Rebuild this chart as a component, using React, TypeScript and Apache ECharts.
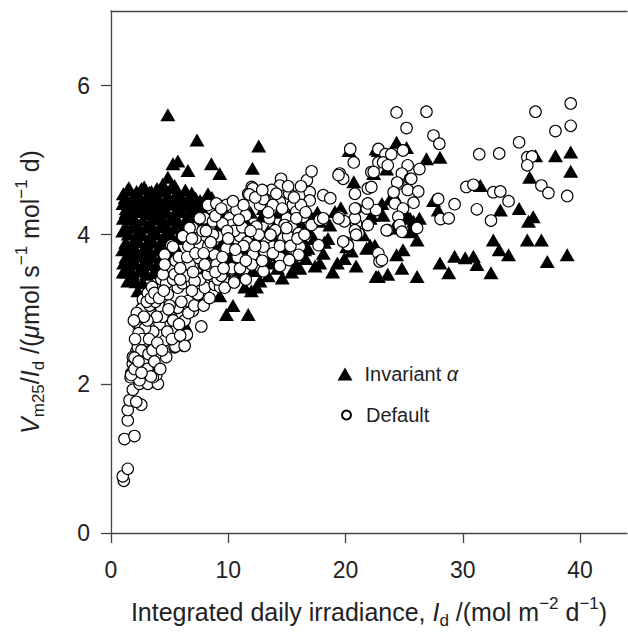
import React, { useEffect, useRef } from "react";
import * as echarts from "echarts";

const FONT = '"Liberation Sans", Arial, Helvetica, sans-serif';
const TEXT = "#222";
const AXIS = "#444";

const xTicks = [0, 10, 20, 30, 40];
const yTicks = [0, 2, 4, 6];

// Invariant alpha (filled triangles)
const invariantCluster: number[][] = [
  [4.85, 5.61], [7.33, 5.27], [5.7, 4.99], [5.28, 4.95], [6.56, 4.86], [8.56, 4.95], [9.27, 4.82],
  [4.85, 4.77], [4.42, 4.68], [5.42, 4.66], [8.27, 4.55],
  [1.05, 4.55], [1.4, 4.6], [2.0, 4.5], [2.6, 4.62], [3.1, 4.52], [3.45, 4.58], [4.0, 4.5], [4.4, 4.6],
  [5.0, 4.48], [5.6, 4.56], [6.2, 4.45], [7.0, 4.52], [7.6, 4.46], [8.6, 4.5],
  [1.02, 4.42], [1.3, 4.35], [1.8, 4.4], [2.3, 4.32], [2.9, 4.38], [3.5, 4.3], [4.1, 4.36], [4.7, 4.3],
  [1.05, 4.22], [1.0, 4.05], [1.08, 3.62], [1.04, 3.5], [1.0, 3.8],
  [1.43, 3.38], [2.29, 3.25], [2.86, 3.16],
  [7.7, 3.09], [6.28, 2.8], [9.27, 3.18], [10.4, 3.05], [9.84, 2.93], [11.7, 2.93], [11.97, 3.25],
  [12.7, 3.38], [10.7, 3.69],
];

const invariantDense: number[][] = [
  [1.52, 4.63], [2.18, 4.58], [2.83, 4.64], [3.27, 4.57], [3.92, 4.62], [4.53, 4.59], [5.12, 4.63],
  [5.68, 4.57], [6.34, 4.6], [6.88, 4.56],
  [1.21, 4.5], [1.83, 4.48], [2.41, 4.52], [3.04, 4.47], [3.62, 4.51], [4.18, 4.46], [4.82, 4.52],
  [5.39, 4.47], [6.03, 4.5], [6.61, 4.44], [7.22, 4.49], [7.83, 4.43],
  [1.49, 4.41], [2.12, 4.37], [2.71, 4.42], [3.31, 4.38], [3.88, 4.4], [4.47, 4.36], [5.13, 4.41],
  [5.72, 4.37], [6.28, 4.39], [6.93, 4.35], [7.52, 4.38],
  [1.28, 4.3], [1.79, 4.27], [2.38, 4.31], [3.02, 4.28], [3.58, 4.32], [4.21, 4.26], [4.79, 4.3],
  [5.42, 4.27], [6.01, 4.31], [6.63, 4.26], [7.19, 4.29], [7.91, 4.24],
  [1.53, 4.21], [2.08, 4.17], [2.73, 4.2], [3.34, 4.16], [3.87, 4.21], [4.52, 4.17], [5.08, 4.2],
  [5.71, 4.16], [6.32, 4.19], [6.88, 4.14], [7.61, 4.17],
  [1.28, 4.09], [1.81, 4.11], [2.43, 4.07], [2.98, 4.1], [3.63, 4.06], [4.19, 4.11], [4.83, 4.07],
  [5.38, 4.09], [6.04, 4.05], [6.58, 4.08], [7.31, 4.04],
  [1.48, 4.01], [2.11, 3.97], [2.69, 4.0], [3.32, 3.96], [3.91, 4.01], [4.48, 3.97], [5.12, 3.99],
  [5.73, 3.95], [6.38, 3.98],
  [1.26, 3.9], [1.82, 3.88], [2.37, 3.91], [3.03, 3.87], [3.61, 3.9], [4.22, 3.86], [4.79, 3.89], [5.47, 3.85],
  [1.52, 3.81], [2.13, 3.77], [2.72, 3.8], [3.28, 3.76], [3.93, 3.79], [4.51, 3.75], [5.08, 3.78],
  [1.27, 3.7], [1.78, 3.68], [2.42, 3.71], [2.97, 3.67], [3.59, 3.7], [4.18, 3.66], [4.82, 3.69],
  [1.51, 3.58], [2.09, 3.61], [2.68, 3.57], [3.33, 3.6], [3.88, 3.56],
  [1.29, 3.5], [1.83, 3.48], [2.39, 3.51], [3.01, 3.47], [3.62, 3.49],
  [1.72, 3.39], [2.13, 3.37], [2.71, 3.36],
];

const invariantMid: number[][] = [
  [12.6, 5.19], [12.06, 4.89], [20.7, 4.71], [20.3, 5.13], [22.6, 5.15], [22.4, 4.82], [19.6, 4.36],
  [18.66, 4.13], [18.5, 3.95], [17.8, 3.62], [16.1, 3.55], [19.9, 3.68], [20.9, 3.58], [21.8, 3.82],
  [22.1, 4.22], [22.6, 3.44], [15.2, 4.26], [14.7, 3.82], [13.8, 3.73], [16.8, 3.82], [17.2, 4.22],
  [15.8, 3.6], [13.0, 3.55], [11.3, 3.82], [10.8, 3.64], [15.2, 3.95], [20.5, 3.78], [21.5, 4.0],
  [19.1, 4.31], [17.8, 4.18], [20.1, 3.84], [14.96, 4.26], [15.5, 4.09], [16.3, 3.95], [13.4, 4.05],
  [12.2, 3.9], [11.0, 4.1], [9.5, 3.9], [10.2, 3.7], [12.5, 3.72], [14.2, 3.55], [16.6, 3.68], [18.9, 3.5],
  [8.0, 3.75], [8.7, 3.6], [9.0, 4.05], [10.0, 4.25], [11.6, 4.15], [12.9, 4.25], [13.9, 4.1], [7.6, 4.0],
  [8.3, 4.2], [9.8, 3.45], [10.9, 3.5], [12.1, 3.52], [13.4, 3.45], [14.3, 3.68], [17.3, 3.95],
  [18.1, 3.75], [19.3, 3.62], [16.6, 4.35],
  [8.2, 3.95], [8.9, 3.82], [9.6, 4.12], [10.4, 3.88], [11.1, 4.0], [11.9, 3.7], [12.7, 3.95],
  [13.5, 3.62], [14.1, 3.9], [14.9, 3.72], [15.7, 4.05], [16.5, 3.8], [17.4, 3.58], [9.1, 3.55],
  [10.1, 3.4], [11.4, 3.3], [12.4, 3.3], [14.6, 3.42], [15.4, 3.5], [16.9, 4.05], [18.2, 3.9],
  [17.6, 4.3], [16.2, 4.15], [7.9, 4.35], [8.6, 4.25], [9.3, 4.3], [10.6, 4.32], [11.9, 4.3],
  [13.0, 4.35], [14.3, 4.3], [7.4, 3.8], [8.0, 3.5],
];

const invariantHigh: number[][] = [
  [24.35, 5.24], [25.2, 5.17], [26.9, 5.02], [28.05, 5.04], [22.8, 5.13], [36.2, 5.06], [37.9, 5.06],
  [39.2, 5.11], [39.2, 4.85], [35.7, 4.77], [31.5, 4.66], [27.5, 4.46], [27.9, 4.33], [33.2, 4.33],
  [34.8, 4.35], [36.0, 4.24], [35.6, 4.18], [32.6, 3.93], [33.1, 3.8], [33.9, 3.73], [35.5, 3.93],
  [36.7, 3.93], [37.2, 3.64], [38.9, 3.73], [29.3, 3.71], [30.2, 3.69], [30.9, 3.71], [31.2, 3.6],
  [28.05, 3.62], [28.8, 3.49], [32.4, 3.49], [26.1, 3.44], [24.8, 3.55], [23.6, 3.47], [22.8, 3.44],
  [24.35, 3.73], [24.9, 3.8], [26.1, 3.93], [25.5, 4.04], [26.3, 4.22], [25.2, 4.26], [23.2, 4.26],
  [23.8, 4.48], [23.1, 4.42], [22.2, 4.26], [23.5, 4.88], [22.5, 3.86], [25.8, 4.18], [24.2, 4.51],
  [25.5, 4.22], [24.1, 4.09], [25.6, 4.06], [22.1, 3.86],
];

// Default (open circles)
const defaultLow: number[][] = [
  [1.09, 0.7], [1.0, 0.76], [1.43, 0.86], [1.15, 1.26], [2.0, 1.3], [1.43, 1.51], [1.43, 1.65],
  [1.58, 1.78], [2.58, 1.72], [2.15, 1.76], [1.86, 1.92], [1.67, 2.09], [1.72, 2.14], [1.86, 2.27],
  [2.43, 2.0], [3.14, 2.0], [4.0, 2.0], [3.86, 2.12], [4.71, 2.36], [5.42, 2.49], [6.2, 2.51],
  [6.42, 2.65], [7.7, 2.77], [2.15, 2.43], [2.86, 2.36], [3.43, 2.27], [2.29, 2.54], [2.29, 2.62],
  [2.29, 2.8], [2.72, 3.0], [2.72, 3.13], [3.14, 3.22], [3.43, 2.93], [4.0, 2.67], [4.57, 2.58],
  [4.14, 2.8], [5.14, 2.89], [5.7, 3.02], [6.56, 3.11], [7.41, 3.2], [6.98, 2.98], [6.28, 2.85],
  [5.42, 2.71], [4.28, 3.02], [4.85, 3.2], [5.7, 3.29], [4.0, 3.29], [8.0, 3.29], [8.84, 3.33],
  [9.97, 3.36], [10.5, 3.38], [3.71, 2.49], [3.0, 2.58], [2.58, 3.0], [2.43, 2.8], [6.47, 2.66],
  [5.5, 2.5], [6.28, 2.51], [2.43, 2.05], [1.72, 2.12], [2.72, 2.29], [1.86, 2.36], [2.29, 2.49],
  [3.57, 2.09], [2.0, 2.2], [2.6, 2.45], [3.2, 2.4], [3.6, 2.7], [2.9, 2.75], [3.3, 3.05], [3.8, 3.1],
  [4.4, 2.9], [5.0, 3.05], [3.9, 2.9], [3.5, 3.3], [4.3, 3.4], [2.5, 2.9], [2.0, 2.35], [3.1, 2.85],
  [4.7, 3.35], [5.3, 3.4], [6.1, 3.35], [6.9, 3.35], [7.6, 3.4], [9.3, 3.3],
  [2.2, 2.95], [2.35, 2.68], [2.65, 2.6], [2.8, 2.9], [3.05, 3.1], [3.4, 3.15], [3.7, 3.22],
  [4.1, 3.15], [4.5, 3.25], [4.9, 3.0], [5.3, 2.85], [5.8, 2.8], [6.0, 3.1], [6.6, 2.95], [7.1, 3.05],
  [7.9, 3.05], [8.4, 3.15], [3.25, 2.6], [3.55, 2.45], [3.95, 2.55], [4.35, 2.45], [4.8, 2.7],
  [5.2, 2.6], [5.9, 2.65], [3.1, 2.2], [3.4, 2.1], [2.6, 2.15], [2.35, 2.3], [2.05, 2.6], [1.95, 2.85],
  [4.6, 3.5], [5.1, 3.55], [5.5, 3.65], [6.4, 3.45], [7.3, 3.55], [7.9, 3.6], [8.6, 3.45], [9.1, 3.4],
  [3.7, 2.3], [4.2, 2.2],
];

const defaultMid: number[][] = [
  [5.14, 3.86], [4.57, 3.73], [6.28, 3.98], [6.98, 4.09], [7.98, 4.22], [8.56, 4.35], [9.12, 4.4],
  [10.1, 4.22], [6.85, 3.82], [7.98, 3.93], [9.12, 3.98], [10.7, 3.95], [6.28, 3.6], [7.41, 3.69],
  [8.84, 3.73], [4.42, 3.47], [5.42, 3.47], [9.69, 3.29], [10.3, 3.55], [8.27, 3.47], [7.13, 3.38],
  [14.5, 4.75], [14.4, 4.66], [12.0, 4.64], [11.7, 4.55], [13.7, 4.6], [15.2, 4.55], [8.27, 4.4],
  [8.98, 4.42], [9.84, 4.4], [10.7, 4.33], [12.7, 4.4], [13.1, 4.48], [14.4, 4.44], [15.5, 4.4],
  [11.5, 4.26], [13.5, 4.22], [15.0, 4.22], [15.8, 4.31], [7.56, 4.22], [8.7, 4.18], [10.3, 4.13],
  [12.4, 4.11], [14.8, 4.13], [6.7, 4.09], [6.13, 3.98], [8.7, 4.0], [11.0, 3.98], [13.25, 3.91],
  [14.7, 3.95], [5.28, 3.84], [7.56, 3.86], [9.84, 3.82], [12.1, 3.78], [14.4, 3.69], [15.8, 3.78],
  [4.57, 3.6], [6.7, 3.6], [8.41, 3.58], [11.0, 3.55], [13.0, 3.51], [12.1, 4.62], [11.8, 4.54],
  [13.0, 4.48], [13.8, 4.4], [14.0, 4.06], [13.8, 3.84], [13.0, 3.84], [12.1, 3.73], [12.0, 3.6],
  [11.5, 3.4], [10.5, 3.36], [14.4, 3.58], [13.8, 3.75], [15.4, 4.11], [15.1, 3.98], [16.1, 3.84],
  [16.0, 3.73], [16.4, 4.4], [16.4, 4.24], [15.8, 4.22], [16.1, 4.53], [16.7, 4.73], [17.1, 4.85],
  [16.95, 4.57], [16.95, 4.46], [17.1, 4.13], [17.8, 4.2], [17.7, 3.86], [16.2, 4.4], [15.2, 3.66],
  [14.96, 4.09], [16.0, 4.02], [5.8, 3.7], [6.6, 3.85], [7.2, 3.95], [7.8, 4.05], [8.3, 3.85],
  [9.5, 4.15], [9.0, 3.6], [10.5, 4.05], [11.3, 4.4], [7.0, 3.5], [5.9, 3.4], [9.4, 3.45], [10.8, 3.7],
  [11.6, 3.9], [12.6, 4.0], [11.2, 4.1],
  [8.1, 4.05], [8.9, 4.25], [9.4, 4.35], [9.9, 4.05], [10.4, 4.45],
  [10.9, 4.2], [11.3, 3.85], [11.9, 4.05], [12.3, 4.5], [12.9, 4.6], [13.4, 4.3], [14.1, 4.55],
  [14.6, 4.35], [15.1, 4.65], [15.6, 4.5], [16.2, 4.65], [16.6, 4.3], [9.5, 3.7], [10.0, 3.95],
  [10.6, 3.8], [11.5, 3.65], [12.3, 3.85], [12.9, 3.65], [13.6, 4.0], [14.4, 3.85], [15.3, 3.85],
  [15.9, 3.95], [16.5, 4.0], [6.5, 3.7], [7.2, 3.75], [7.9, 3.75], [8.5, 3.9], [6.9, 3.95],
  [5.9, 3.55], [6.9, 3.25], [8.0, 3.6], [8.9, 3.5], [9.6, 3.55],
];

const defaultHigh: number[][] = [
  [20.4, 5.15], [20.7, 4.97], [19.5, 4.82], [19.8, 4.75], [18.1, 4.53], [18.7, 4.49], [20.8, 4.55],
  [21.9, 4.62], [22.2, 4.84], [22.8, 4.97], [20.9, 4.35], [21.8, 4.35], [19.5, 4.24], [20.9, 4.15],
  [21.1, 4.02], [20.1, 3.89], [22.8, 3.75], [22.9, 3.64], [24.35, 5.64], [26.9, 5.65], [25.2, 5.43],
  [27.5, 5.33], [28.0, 5.22], [22.8, 5.15], [23.4, 5.08], [23.9, 5.08], [24.9, 5.13], [23.2, 4.97],
  [23.6, 4.93], [25.3, 4.93], [26.3, 4.88], [22.4, 4.84], [24.8, 4.82], [25.5, 4.75], [24.5, 4.68],
  [22.2, 4.64], [25.3, 4.6], [26.2, 4.58], [24.2, 4.42], [24.9, 4.35], [25.8, 4.43], [22.6, 4.33],
  [24.5, 4.24], [24.6, 4.13], [23.6, 4.06], [26.1, 4.09], [27.9, 4.48], [29.3, 4.41], [28.1, 4.21],
  [28.8, 4.22], [23.1, 3.66], [31.4, 5.08], [33.1, 5.09], [34.8, 5.24], [36.2, 5.65], [39.2, 5.76],
  [37.9, 5.39], [39.2, 5.46], [35.5, 5.04], [35.9, 5.05], [35.5, 4.93], [36.7, 4.66], [37.3, 4.56],
  [38.9, 4.52], [30.3, 4.64], [30.9, 4.67], [32.6, 4.57], [33.2, 4.58], [33.9, 4.45], [31.2, 4.34],
  [32.4, 4.19], [20.8, 4.22], [20.8, 4.06], [19.9, 4.18], [21.9, 4.13], [23.5, 4.06], [24.8, 4.04],
  [20.2, 3.86], [19.8, 3.91], [20.9, 4.0], [18.1, 4.22], [19.4, 4.22], [19.4, 4.8], [25.6, 4.75],
  [24.4, 4.7], [24.1, 4.57], [21.9, 4.42], [20.8, 4.35],
];

const invariantData = [...invariantCluster, ...invariantDense, ...invariantMid, ...invariantHigh];
const defaultData = [...defaultLow, ...defaultMid, ...defaultHigh];

const nameRich = {
  n: { fontSize: 25, fontFamily: FONT, color: TEXT, lineHeight: 34, verticalAlign: "middle" },
  e: { fontSize: 25, fontFamily: FONT, color: TEXT, lineHeight: 34, verticalAlign: "middle", padding: [0, 40, 0, 0] },
  i: { fontSize: 25, fontFamily: FONT, color: TEXT, lineHeight: 34, fontStyle: "italic", verticalAlign: "middle" },
  sub: { fontSize: 17, fontFamily: FONT, color: TEXT, lineHeight: 17, verticalAlign: "bottom" },
  sup: { fontSize: 17, fontFamily: FONT, color: TEXT, lineHeight: 21, verticalAlign: "top" },
};

const legendRich = (pad: number) => ({
  n: { fontSize: 20, fontFamily: FONT, color: TEXT, padding: [0, 0, 0, pad] },
  a: { fontSize: 20, fontFamily: FONT, color: TEXT, fontStyle: "italic" },
});

export default function App() {
  const ref = useRef<HTMLDivElement>(null);
  useEffect(() => {
    if (!ref.current) return;
    const chart = echarts.init(ref.current, null, { renderer: "svg" });
    chart.setOption({
      animation: false,
      backgroundColor: "#fff",
      grid: { left: 111, top: 11, width: 516, height: 526.5, containLabel: false },
      legend: [
        {
          data: ["Invariant α"],
          left: 337.5,
          top: 364,
          itemWidth: 15,
          itemHeight: 13,
          icon: "triangle",
          padding: 0,
          selectedMode: false,
          formatter: () => "{n|Invariant }{a|α}",
          textStyle: { rich: legendRich(7) },
        },
        {
          data: ["Default"],
          left: 341,
          top: 405,
          itemWidth: 9,
          itemHeight: 9,
          icon: "circle",
          padding: 0,
          selectedMode: false,
          formatter: (name: string) => "{n|" + name + "}",
          textStyle: { rich: legendRich(10) },
        },
      ],
      xAxis: [
        {
          type: "value",
          min: 0,
          max: 44,
          position: "bottom",
          name:
            "{n|Integrated daily irradiance, }{i|I}{sub|d}{n| /(mol m}{sup|−2}{n| d}{sup|−1}{n|)}",
          nameLocation: "middle",
          nameGap: 62,
          nameTextStyle: { rich: nameRich },
          axisLine: { show: true, onZero: false, lineStyle: { color: AXIS, width: 1.3 } },
          axisTick: { show: true, length: 10, customValues: xTicks, lineStyle: { color: AXIS, width: 1.3 } },
          axisLabel: {
            customValues: xTicks,
            margin: 25,
            fontSize: 23,
            color: TEXT,
            fontFamily: FONT,
          },
          splitLine: { show: false },
        },
        {
          type: "value",
          min: 0,
          max: 44,
          position: "top",
          axisLine: { show: true, onZero: false, lineStyle: { color: AXIS, width: 1.3 } },
          axisTick: { show: false },
          axisLabel: { show: false },
          splitLine: { show: false },
        },
      ],
      yAxis: {
        type: "value",
        min: 0,
        max: 7,
        name:
          "{i|V}{sub|m25}{n|/}{i|I}{sub|d}{n| /(}{i|μ}{n|mol s}{sup|−1}{n| mol}{sup|−1}{e| d)}",
        nameLocation: "middle",
        nameGap: 64,
        nameRotate: 90,
        nameTextStyle: { rich: nameRich },
        axisLine: { show: true, onZero: false, lineStyle: { color: AXIS, width: 1.3 } },
        axisTick: { show: true, length: 10, customValues: yTicks, lineStyle: { color: AXIS, width: 1.3 } },
        axisLabel: {
          customValues: yTicks,
          margin: 21,
          fontSize: 23,
          color: TEXT,
          fontFamily: FONT,
        },
        splitLine: { show: false },
      },
      series: [
        {
          name: "Invariant α",
          type: "scatter",
          xAxisIndex: 0,
          data: invariantData,
          symbol: "triangle",
          symbolSize: [15, 13],
          itemStyle: { color: "#000", borderWidth: 0, opacity: 1 },
          z: 2,
        },
        {
          name: "Default",
          type: "scatter",
          xAxisIndex: 0,
          data: defaultData,
          symbol: "circle",
          symbolSize: 11.5,
          itemStyle: { color: "#fff", borderColor: "#000", borderWidth: 1.1, opacity: 1 },
          z: 3,
        },
      ],
    });
    return () => chart.dispose();
  }, []);
  return (
    <div
      ref={ref}
      style={{ position: "fixed", left: 0, top: 0, width: 628, height: 634, background: "#fff" }}
    />
  );
}
